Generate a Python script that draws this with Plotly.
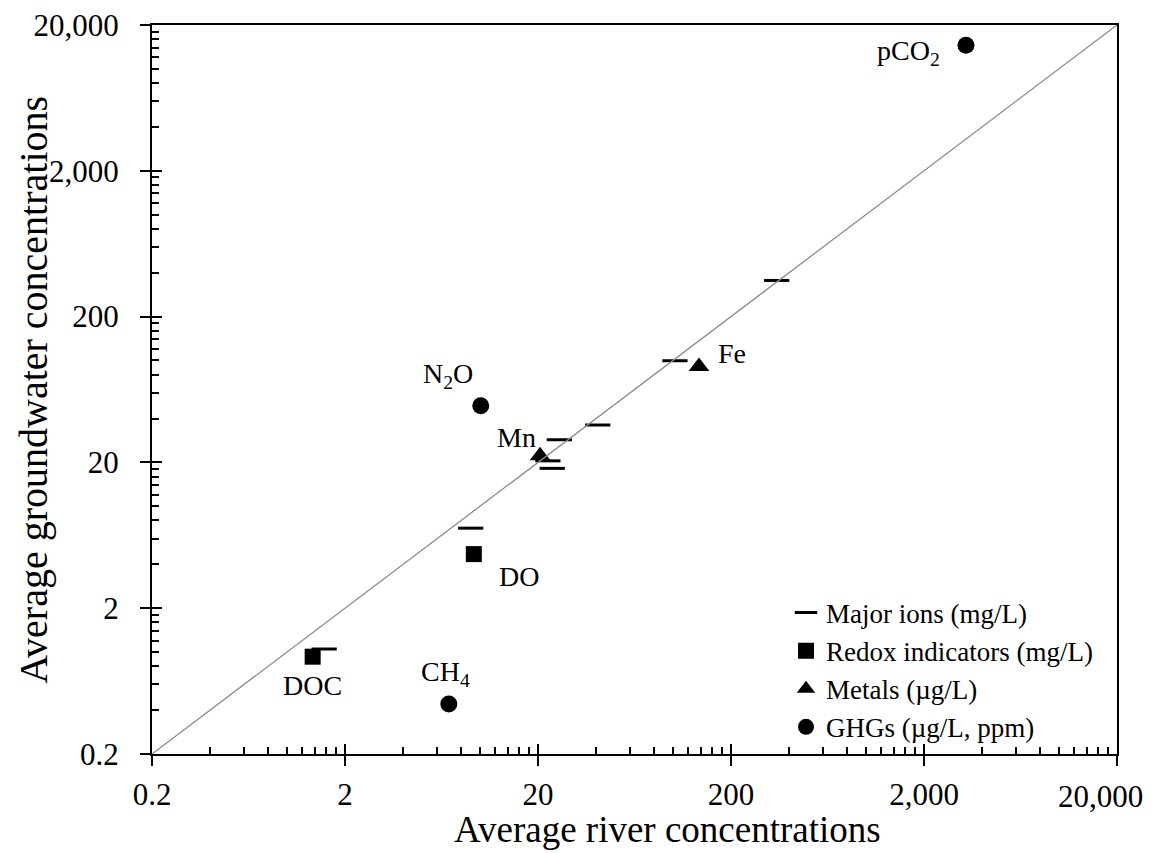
import math
import plotly.graph_objects as go

# ---- data ----
ions_river = [1.56, 8.96, 22.5, 23.7, 25.8, 40.8, 102.5, 345]
ions_ground = [1.05, 7.08, 20.5, 18.2, 28.6, 36.1, 99.6, 354]

redox_names = ["DOC", "DO"]
redox_river = [1.36, 9.3]
redox_ground = [0.93, 4.7]

metal_names = ["Mn", "Fe"]
metal_river = [20.5, 136.5]
metal_ground = [22.2, 91]

ghg_names = ["CH<sub>4</sub>", "N<sub>2</sub>O", "pCO<sub>2</sub>"]
ghg_river = [6.9, 10.1, 3300]
ghg_ground = [0.44, 49, 14500]

one_to_one = [0.2, 20000]

major_vals = [0.2, 2, 20, 200, 2000, 20000]
major_text = ["0.2", "2", "20", "200", "2,000", "20,000"]
minor_vals = [0.2 * 10**d * k for d in range(5) for k in range(2, 10)]

FONT = "Liberation Serif, Times New Roman, serif"

fig = go.Figure()

# 1:1 line (on overlay axes that share the same range)
fig.add_trace(go.Scatter(x=one_to_one, y=one_to_one, mode="lines",
                         line=dict(color="#8c8c8c", width=1.3),
                         showlegend=False, hoverinfo="skip",
                         xaxis="x2", yaxis="y2"))

fig.add_trace(go.Scatter(x=ions_river, y=ions_ground, mode="markers",
                         name="Major ions (mg/L)",
                         marker=dict(symbol="line-ew", size=18, color="black",
                                     line=dict(color="black", width=3))))
fig.add_trace(go.Scatter(x=redox_river, y=redox_ground, mode="markers",
                         name="Redox indicators (mg/L)",
                         marker=dict(symbol="square", size=16, color="black")))
fig.add_trace(go.Scatter(x=metal_river, y=metal_ground, mode="markers",
                         name="Metals (µg/L)",
                         marker=dict(symbol="triangle-up", size=18, color="black")))
fig.add_trace(go.Scatter(x=ghg_river, y=ghg_ground, mode="markers",
                         name="GHGs (µg/L, ppm)",
                         marker=dict(symbol="circle", size=17, color="black")))

# point labels: (name, x, y, xshift, yshift)
labels = [
    (redox_names[0], redox_river[0], redox_ground[0], 0, -29),
    (redox_names[1], redox_river[1], redox_ground[1], 45, -22),
    (metal_names[0], metal_river[0], metal_ground[0], -24, 18),
    (metal_names[1], metal_river[1], metal_ground[1], 33, 13),
    (ghg_names[0], ghg_river[0], ghg_ground[0], -3, 31),
    (ghg_names[1], ghg_river[1], ghg_ground[1], -33, 30),
    (ghg_names[2], ghg_river[2], ghg_ground[2], -57, -7),
]
for txt, xv, yv, dx, dy in labels:
    fig.add_annotation(x=math.log10(xv), y=math.log10(yv), xref="x", yref="y",
                       text=txt, showarrow=False, xshift=dx, yshift=dy,
                       font=dict(family=FONT, size=28, color="black"))

rng = [math.log10(0.2), math.log10(20000)]

axis_common = dict(
    type="log", range=rng, showgrid=False, zeroline=False, automargin=False,
    showline=True, linecolor="black", linewidth=2, mirror=True,
    ticks="outside", ticklen=10, tickwidth=2, tickcolor="black",
    tickmode="array", tickvals=major_vals,
    tickfont=dict(family=FONT, size=31, color="black"),
    minor=dict(tickmode="array", tickvals=minor_vals, ticks="inside",
               ticklen=7, tickwidth=1.5, tickcolor="black"),
)
# last x label is kept inside the page (right-aligned at its tick, as in the reference)
x_ticktext = major_text[:-1] + [""]
fig.update_layout(
    width=1157, height=853,
    margin=dict(l=152, r=40, t=25, b=99),
    paper_bgcolor="white", plot_bgcolor="white",
    font=dict(family=FONT, color="black"),
    xaxis=dict(axis_common, ticktext=x_ticktext, ticklabelstandoff=2),
    yaxis=dict(axis_common, ticktext=major_text, ticklabelstandoff=15),
    xaxis2=dict(type="log", range=rng, overlaying="x", anchor="y2", side="bottom",
                showgrid=False, zeroline=False, showline=False, automargin=False,
                ticks="inside", ticklen=10, tickwidth=2, tickcolor="black",
                tickmode="array", tickvals=major_vals, showticklabels=False),
    yaxis2=dict(type="log", range=rng, overlaying="y", anchor="x2", side="left",
                showgrid=False, zeroline=False, showline=False, automargin=False,
                ticks="inside", ticklen=10, tickwidth=2, tickcolor="black",
                tickmode="array", tickvals=major_vals, showticklabels=False),
    legend=dict(x=0.657, y=0.227, xanchor="left", yanchor="top",
                bgcolor="rgba(0,0,0,0)", font=dict(family=FONT, size=27),
                itemwidth=30, tracegroupgap=0),
    showlegend=True,
)

fig.add_annotation(text=major_text[-1], x=math.log10(major_vals[-1]), xref="x",
                   y=0, yref="paper", xanchor="right", yanchor="middle",
                   xshift=28, yshift=-42, showarrow=False,
                   font=dict(family=FONT, size=31, color="black"))

fig.add_annotation(text="Average river concentrations", xref="paper", yref="paper",
                   x=0.534, y=-0.104, xanchor="center", yanchor="middle",
                   showarrow=False, font=dict(family=FONT, size=37, color="black"))
fig.add_annotation(text="Average groundwater concentrations", xref="paper", yref="paper",
                   x=-0.123, y=0.5, xanchor="center", yanchor="middle", textangle=-90,
                   showarrow=False, font=dict(family=FONT, size=40, color="black"))

fig.write_html("out.html")
